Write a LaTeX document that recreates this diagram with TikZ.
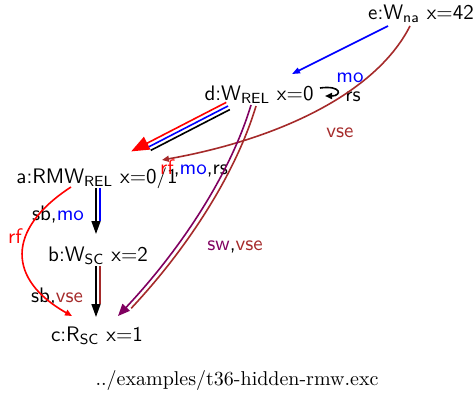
\documentclass[tikz,border=0pt]{standalone}
\usetikzlibrary{arrows.meta,calc}
\definecolor{vsecol}{RGB}{165,42,42}
\definecolor{swcol}{RGB}{128,0,96}
\begin{document}
\begin{tikzpicture}[x=0.5pt,y=-0.5pt,
  ev/.style={font=\sffamily\fontsize{10.5}{13}\selectfont,inner sep=0pt},
  lab/.style={font=\sffamily\fontsize{10.5}{13}\selectfont,inner sep=0pt},
  edge/.style={line width=0.8pt},
  tip/.style={-{Triangle[length=6.5pt,width=4.5pt]}}]
  \useasboundingbox (0,0) rectangle (474,395);
  % events
  \node[ev] (e) at (421,14) {e:W\textsubscript{na} x=42};
  \node[ev] (d) at (259,95) {d:W\textsubscript{REL} x=0};
  \node[ev] (a) at (97,178) {a:RMW\textsubscript{REL} x=0/1};
  \node[ev] (b) at (98,256) {b:W\textsubscript{SC} x=2};
  \node[ev] (c) at (97,336) {c:R\textsubscript{SC} x=1};
  \node[font=\rmfamily] (cap) at (237,380) {../examples/t36-hidden-rmw.exc};
  % e -> d and the loop on d
  \draw[edge,blue,-{Triangle[length=4pt,width=3pt]}] ($(e)+(-33,12)$) -- ($(d)+(33,-21)$);
  \node[lab,text=blue] (lmo) at (350,78) {mo};
  \draw[edge,-{Triangle[length=3.5pt,width=3pt]}] ($(d)+(61,-7)$) .. controls ($(d)+(83,-10)$) and ($(d)+(83,1)$) .. ($(d)+(66,1)$);
  \node[lab] (lrs) at (353,97) {rs};
  % e -> a : vse
  \draw[edge,vsecol,-{Triangle[length=3.5pt,width=3pt]}] ($(e)+(-11,12)$) .. controls ($(e)+(-46,81)$) and ($(a)+(178,-38)$) .. ($(a)+(65,-18)$);
  \node[lab,text=vsecol] (lvse) at (340,133) {vse};
  % d -> a : rf,mo,rs
  \draw[edge,red,-{Triangle[length=9pt,width=7pt]}] ($(d)+(-32.8,7.4)$) -- ($(a)+(34.2,-26.6)$);
  \draw[edge,blue,shorten >=9pt] ($(d)+(-31,11)$) -- ($(a)+(36,-23)$);
  \draw[edge,shorten >=9pt] ($(d)+(-29.2,14.6)$) -- ($(a)+(37.8,-19.4)$);
  \node[lab] (lrfmors) at (194,168) {\textcolor{red}{rf},\textcolor{blue}{mo},rs};
  % a -> b : sb,mo
  \draw[edge,tip] ($(a)+(-1,10)$) -- ($(b)+(-2,-22)$);
  \draw[edge,blue,shorten >=6.5pt] ($(a)+(3,10)$) -- ($(b)+(2,-22)$);
  \node[lab] (lsbmo) at (58,215) {sb,\textcolor{blue}{mo}};
  % b -> c : sb,vse
  \draw[edge,tip] ($(b)+(-2,10)$) -- ($(c)+(-1,-19)$);
  \draw[edge,vsecol,shorten >=6.5pt] ($(b)+(2,10)$) -- ($(c)+(3,-19)$);
  \node[lab] (lsbvse) at (57,297) {sb,\textcolor{vsecol}{vse}};
  % a -> c : rf
  \draw[edge,red,-{Triangle[length=3.5pt,width=3pt]}] ($(a)+(-26,9)$) .. controls ($(a)+(-92,52)$) and ($(c)+(-89,-56)$) .. ($(c)+(-25,-20)$);
  \node[lab,text=red] (lrf) at (15,236) {rf};
  % d -> c : sw,vse
  \draw[edge,swcol,-{Triangle[length=6pt,width=5pt]}] ($(d)+(-8,10)$) .. controls ($(d)+(-29,80)$) and ($(c)+(83,-86)$) .. ($(c)+(21,-20)$);
  \draw[edge,vsecol,shorten >=6pt] ($(d)+(-3,11)$) .. controls ($(d)+(-24,81)$) and ($(c)+(88,-85)$) .. ($(c)+(26,-19)$);
  \node[lab] (lswvse) at (235,247) {\textcolor{swcol}{sw},\textcolor{vsecol}{vse}};
\end{tikzpicture}
\end{document}
